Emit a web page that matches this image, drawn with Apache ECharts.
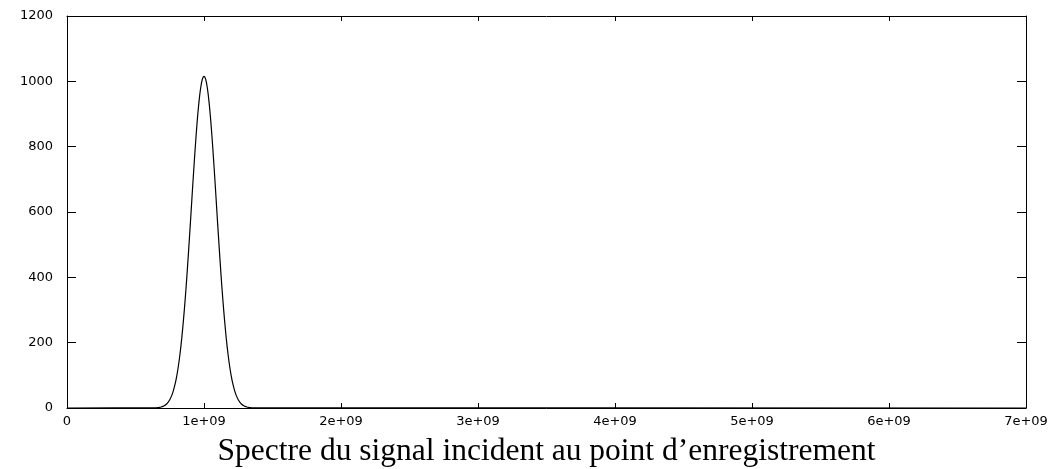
<!DOCTYPE html>
<html>
<head>
<meta charset="utf-8">
<script src="https://cdn.jsdelivr.net/npm/echarts@6/dist/echarts.min.js"></script>
<style>html,body{margin:0;padding:0;background:#fff;overflow:hidden}#c{width:1055px;height:469px}</style>
</head>
<body>
<div id="c"></div>
<script>
const titleText = "Spectre du signal incident au point d\u2019enregistrement";
const frequencies = [0,
  6.25e8, 6.375e8, 6.5e8, 6.625e8, 6.75e8, 6.875e8, 7e8, 7.125e8, 7.25e8, 7.375e8,
  7.5e8, 7.625e8, 7.75e8, 7.875e8, 8e8, 8.125e8, 8.25e8, 8.375e8, 8.5e8, 8.625e8,
  8.75e8, 8.875e8, 9e8, 9.125e8, 9.25e8, 9.375e8, 9.5e8, 9.625e8, 9.75e8, 9.875e8,
  1e9,
  1.0125e9, 1.025e9, 1.0375e9, 1.05e9, 1.0625e9, 1.075e9, 1.0875e9, 1.1e9, 1.1125e9, 1.125e9,
  1.1375e9, 1.15e9, 1.1625e9, 1.175e9, 1.1875e9, 1.2e9, 1.2125e9, 1.225e9, 1.2375e9, 1.25e9,
  1.2625e9, 1.275e9, 1.2875e9, 1.3e9, 1.3125e9, 1.325e9, 1.3375e9, 1.35e9, 1.3625e9, 1.375e9,
  7e9];
const amplitudes = [0,
  0.2, 0.4, 0.7, 1.2, 2.0, 3.2, 5.0, 7.7, 11.6, 17.3,
  25.3, 36.3, 51, 70.5, 95.5, 127, 166, 213, 269, 332,
  403, 481, 562, 646, 728, 806, 876, 934, 978, 1006,
  1015,
  1006, 978, 934, 876, 806, 728, 646, 562, 481, 403,
  332, 269, 213, 166, 127, 95.5, 70.5, 51, 36.3, 25.3,
  17.3, 11.6, 7.7, 5.0, 3.2, 2.0, 1.2, 0.7, 0.4, 0.2,
  0];
const xTicks = {min: 0, max: 7e9, interval: 1e9};
const yTicks = {min: 0, max: 1200, interval: 200};

const points = frequencies.map((f, i) => [f, amplitudes[i]]);
const labelFont = {fontFamily: 'DejaVu Sans', fontSize: 13, color: '#000'};
const lineStyle = {color: '#000', width: 1};

const chart = echarts.init(document.getElementById('c'), null, {renderer: 'canvas'});
chart.setOption({
  animation: false,
  backgroundColor: '#fff',
  grid: {left: 67, right: 29, top: 16, bottom: 61, containLabel: false, outerBoundsMode: 'none'},
  xAxis: [{
    type: 'value', min: xTicks.min, max: xTicks.max, interval: xTicks.interval,
    position: 'bottom',
    axisLine: {show: true, onZero: false, lineStyle},
    axisTick: {show: true, inside: true, length: 5, lineStyle},
    splitLine: {show: false},
    axisLabel: Object.assign({margin: 7, formatter: v => v === 0 ? '0' : (v / 1e9) + 'e+09'}, labelFont),
    name: titleText,
    nameLocation: 'middle',
    nameGap: 28,
    nameTextStyle: {fontFamily: 'Liberation Serif', fontSize: 31.5, color: '#000'}
  }, {
    type: 'value', min: xTicks.min, max: xTicks.max, interval: xTicks.interval,
    position: 'top',
    axisLine: {show: true, onZero: false, lineStyle},
    axisTick: {show: true, inside: true, length: 5, lineStyle},
    splitLine: {show: false},
    axisLabel: {show: false}
  }],
  yAxis: [{
    type: 'value', min: yTicks.min, max: yTicks.max, interval: yTicks.interval,
    position: 'left',
    axisLine: {show: true, onZero: false, lineStyle},
    axisTick: {show: true, inside: true, length: 9, lineStyle},
    splitLine: {show: false},
    axisLabel: Object.assign({margin: 14, formatter: v => String(v)}, labelFont)
  }, {
    type: 'value', min: yTicks.min, max: yTicks.max, interval: yTicks.interval,
    position: 'right',
    axisLine: {show: true, onZero: false, lineStyle},
    axisTick: {show: true, inside: true, length: 9, lineStyle},
    splitLine: {show: false},
    axisLabel: {show: false}
  }],
  series: [{
    type: 'line',
    xAxisIndex: 0, yAxisIndex: 0,
    data: points,
    showSymbol: false,
    smooth: 0.3,
    lineStyle: {color: '#000', width: 1.2},
    z: 5
  }]
});
</script>
</body>
</html>
